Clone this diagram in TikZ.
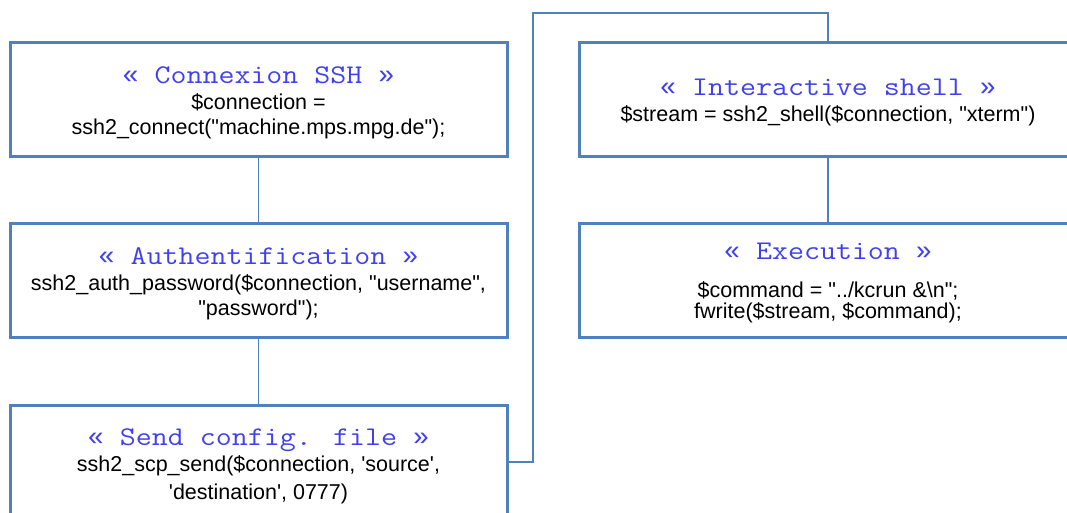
\documentclass[tikz,border=0pt]{standalone}
\usepackage{fontspec}
\setmainfont{Liberation Sans}
\newfontfamily\monof{Latin Modern Mono}[FakeStretch=1.15]
\newfontfamily\gmono{Liberation Mono}
\definecolor{boxblue}{RGB}{79,129,189}
\definecolor{titleblue}{RGB}{64,64,240}
\newcommand{\dq}{\textquotedbl}
\newcommand{\sq}{\textquotesingle}
\newcommand{\gl}{{\gmono «}}
\newcommand{\gr}{{\gmono »}}
\begin{document}
\begin{tikzpicture}[x=1pt,y=-1pt,
  box/.style={draw=boxblue, line width=3pt, minimum width=497pt, minimum height=114pt, inner sep=0pt},
  ttl/.style={anchor=base, inner sep=0pt, text=titleblue, font=\monof\fontsize{27}{30}\selectfont},
  txt/.style={anchor=base, inner sep=0pt, font=\fontsize{21.5}{25}\selectfont},
  link/.style={draw=boxblue, line width=1.8pt}]
\useasboundingbox (0,0) rectangle (1067,512);
\clip (0,0) rectangle (1067,512);
% boxes
\node[box] (b1) at (258.5,99) {};
\node[box] (b2) at (258.5,280) {};
\node[box] (b3) at (258.5,462) {};
\node[box] (b4) at (828,99) {};
\node[box] (b5) at (828,280) {};
% connectors
\coordinate (c1) at (533,13);
\draw[link] (b1.south) -- (b2.north);
\draw[link] (b2.south) -- (b3.north);
\draw[link] (b4.south) -- (b5.north);
\draw[link] (b3.east) -| (c1) -| (b4.north);
% texts box 1
\node[ttl] (t1) at (258.5,83) {\gl{} Connexion SSH \gr};
\node[txt] (t1a) at (258.5,109) {\$connection =};
\node[txt] (t1b) at (258.5,134) {ssh2\_connect(\dq machine.mps.mpg.de\dq);};
% box 2
\node[ttl] (t2) at (258.5,264) {\gl{} Authentification \gr};
\node[txt] (t2a) at (258.5,290) {ssh2\_auth\_password(\$connection, \dq username\dq,};
\node[txt] (t2b) at (258.5,315) {\dq password\dq);};
% box 3
\node[ttl] (t3) at (258.5,445) {\gl{} Send config. file \gr};
\node[txt] (t3a) at (258.5,471) {ssh2\_scp\_send(\$connection, \sq source\sq,};
\node[txt] (t3b) at (258.5,499) {\sq destination\sq, 0777)};
% box 4
\node[ttl] (t4) at (828,95) {\gl{} Interactive shell \gr};
\node[txt] (t4a) at (828,121) {\$stream = ssh2\_shell(\$connection, \dq xterm\dq)};
% box 5
\node[ttl] (t5) at (828,259) {\gl{} Execution \gr};
\node[txt] (t5a) at (828,297) {\$command = \dq../kcrun \&\textbackslash n\dq;};
\node[txt] (t5b) at (828,318) {fwrite(\$stream, \$command);};
\end{tikzpicture}
\end{document}
